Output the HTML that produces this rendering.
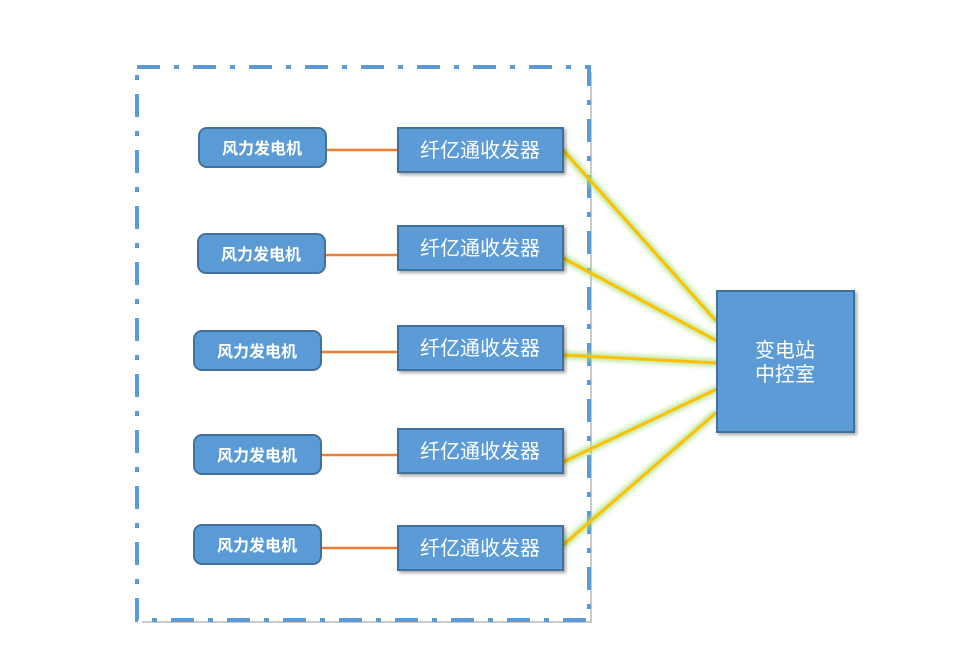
<!DOCTYPE html>
<html><head><meta charset="utf-8"><style>
html,body{margin:0;padding:0;background:#fff;}
svg{display:block;}
text{font-family:"Liberation Sans","Noto Sans CJK SC",sans-serif;fill:#fff;}
</style></head><body>
<svg width="974" height="659" viewBox="0 0 974 659">
<defs>
<filter id="sh" x="-10%" y="-10%" width="130%" height="130%"><feDropShadow dx="2" dy="2" stdDeviation="1.5" flood-color="#000" flood-opacity="0.35"/></filter>
<filter id="gl" x="-10%" y="-20%" width="120%" height="140%"><feGaussianBlur stdDeviation="2"/></filter>
</defs>
<line x1="591" y1="72" x2="591" y2="623" stroke="#999" stroke-width="2" opacity="0.5"/>
<line x1="142" y1="622" x2="591" y2="622" stroke="#999" stroke-width="2" opacity="0.5"/>
<rect x="137" y="67" width="452" height="553" fill="none" stroke="#5b9bd5" stroke-width="4" stroke-dasharray="23 14 5 14"/>
<g stroke="#ed7d31" stroke-width="2.5">
<line x1="326" y1="150" x2="398" y2="150"/>
<line x1="325" y1="255" x2="398" y2="255"/>
<line x1="321" y1="352" x2="398" y2="352"/>
<line x1="321" y1="455" x2="398" y2="455"/>
<line x1="321" y1="548" x2="398" y2="548"/>
</g>
<g stroke="#a9e07a" stroke-width="8" opacity="0.7" filter="url(#gl)">
<line x1="563" y1="150" x2="717" y2="322"/>
<line x1="563" y1="258" x2="717" y2="341"/>
<line x1="563" y1="355" x2="717" y2="363"/>
<line x1="563" y1="462" x2="717" y2="389"/>
<line x1="563" y1="545" x2="717" y2="412"/>
</g>
<g stroke="#ffc000" stroke-width="3">
<line x1="563" y1="150" x2="717" y2="322"/>
<line x1="563" y1="258" x2="717" y2="341"/>
<line x1="563" y1="355" x2="717" y2="363"/>
<line x1="563" y1="462" x2="717" y2="389"/>
<line x1="563" y1="545" x2="717" y2="412"/>
</g>
<g fill="#5b9bd5" stroke="#41719c" stroke-width="2">
<rect x="199" y="128" width="127" height="39" rx="8"/>
<rect x="198" y="234" width="127" height="39" rx="8"/>
<rect x="194" y="331" width="127" height="39" rx="8"/>
<rect x="194" y="435" width="127" height="39" rx="8"/>
<rect x="194" y="525" width="127" height="39" rx="8"/>
</g>
<g fill="#5b9bd5" stroke="#41719c" stroke-width="2" filter="url(#sh)">
<rect x="398" y="128" width="165" height="44"/>
<rect x="398" y="226" width="165" height="44"/>
<rect x="398" y="326" width="165" height="44"/>
<rect x="398" y="429" width="165" height="44"/>
<rect x="398" y="526" width="165" height="44"/>
<rect x="717" y="291" width="137" height="141"/>
</g>
<g font-size="16" font-weight="bold" text-anchor="middle">
<text x="262" y="154">风力发电机</text>
<text x="261" y="260">风力发电机</text>
<text x="257" y="357">风力发电机</text>
<text x="257" y="461">风力发电机</text>
<text x="257" y="551">风力发电机</text>
</g>
<g font-size="20" text-anchor="middle">
<text x="480" y="157">纤亿通收发器</text>
<text x="480" y="255">纤亿通收发器</text>
<text x="480" y="355">纤亿通收发器</text>
<text x="480" y="458">纤亿通收发器</text>
<text x="480" y="555">纤亿通收发器</text>
<text x="785" y="357">变电站</text>
<text x="785" y="381">中控室</text>
</g>
</svg>
</body></html>
